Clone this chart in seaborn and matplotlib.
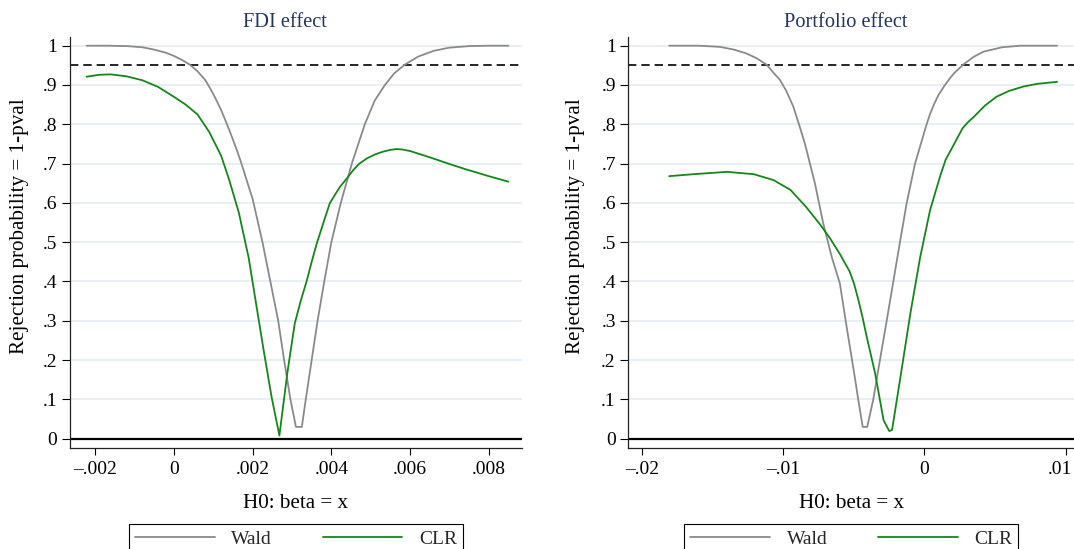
import matplotlib
matplotlib.use('Agg')
import matplotlib.pyplot as plt
import matplotlib.transforms as mtransforms
import seaborn as sns
import pandas as pd

# ---- values ----
# FDI effect panel
fdi_wald_x = [-0.00222, -0.0017, -0.0012, -0.0008, -0.0005, -0.0002, 0.0, 0.0002, 0.0004, 0.0006,
              0.0008, 0.0009, 0.001, 0.0011, 0.0012, 0.0013, 0.0014, 0.0015, 0.0016, 0.0017,
              0.002, 0.00225, 0.00245, 0.00265, 0.0028, 0.00296, 0.0031, 0.00325, 0.00335, 0.0035,
              0.00365, 0.00382, 0.004, 0.00424, 0.00452, 0.00485, 0.0051, 0.00536, 0.0056, 0.00587,
              0.0062, 0.0066, 0.007, 0.0075, 0.008, 0.0085]
fdi_wald_y = [1.0, 1.0, 0.999, 0.996, 0.99, 0.982, 0.974, 0.964, 0.952, 0.935,
              0.912, 0.895, 0.877, 0.857, 0.836, 0.812, 0.787, 0.761, 0.734, 0.705,
              0.61, 0.50, 0.40, 0.30, 0.20, 0.10, 0.03, 0.03, 0.10, 0.20,
              0.30, 0.40, 0.50, 0.60, 0.70, 0.80, 0.86, 0.90, 0.93, 0.952,
              0.972, 0.987, 0.995, 0.999, 1.0, 1.0]
fdi_clr_x = [-0.00222, -0.0019, -0.0016, -0.0012, -0.0008, -0.0004, 0.0, 0.0003, 0.0006, 0.0009,
             0.0012, 0.0014, 0.00165, 0.0019, 0.0021, 0.00228, 0.00248, 0.00268, 0.00288, 0.00307,
             0.00322, 0.00337, 0.0035, 0.00363, 0.0038, 0.00396, 0.0041, 0.00422, 0.0044, 0.00456,
             0.0047, 0.0049, 0.0051, 0.0053, 0.0055, 0.00566, 0.0058, 0.006, 0.0065, 0.007,
             0.0074, 0.008, 0.0085]
fdi_clr_y = [0.921, 0.926, 0.927, 0.922, 0.912, 0.895, 0.87, 0.85, 0.825, 0.78,
             0.72, 0.66, 0.575, 0.46, 0.336, 0.225, 0.107, 0.008, 0.166, 0.293,
             0.35, 0.40, 0.45, 0.497, 0.55, 0.599, 0.622, 0.641, 0.663, 0.684,
             0.699, 0.713, 0.723, 0.73, 0.735, 0.737, 0.736, 0.732, 0.716, 0.699,
             0.686, 0.668, 0.654]
fdi_xticks = [-0.002, 0.0, 0.002, 0.004, 0.006, 0.008]
fdi_xticklabels = ['\u2013.002', '0', '.002', '.004', '.006', '.008']

# Portfolio effect panel
port_wald_x = [-0.0181, -0.016, -0.0145, -0.0135, -0.0126, -0.0119, -0.0112, -0.0108, -0.01025, -0.0098,
               -0.0093, -0.0089, -0.00848, -0.00777, -0.00718, -0.00658, -0.006, -0.0055, -0.005, -0.0047,
               -0.00438, -0.00406, -0.00363, -0.00316, -0.00268, -0.00221, -0.00174, -0.00126, -0.00067, 0.00015,
               0.0004, 0.0007, 0.001, 0.00145, 0.0018, 0.0021, 0.00275, 0.0035, 0.0042, 0.0055,
               0.0068, 0.008, 0.0094]
port_wald_y = [1.0, 1.0, 0.997, 0.99, 0.98, 0.968, 0.952, 0.935, 0.913, 0.885,
               0.845, 0.80, 0.751, 0.65, 0.548, 0.463, 0.395, 0.28, 0.17, 0.10,
               0.03, 0.03, 0.10, 0.20, 0.30, 0.40, 0.50, 0.60, 0.70, 0.80,
               0.827, 0.853, 0.875, 0.90, 0.917, 0.93, 0.952, 0.972, 0.985, 0.996,
               1.0, 1.0, 1.0]
port_clr_x = [-0.0181, -0.0164, -0.014, -0.0121, -0.0107, -0.0095, -0.0084, -0.0074, -0.0067, -0.006,
              -0.0053, -0.005, -0.0047, -0.0044, -0.0041, -0.0035, -0.0029, -0.0025, -0.0023, -0.0017,
              -0.001, -0.0003, 0.0004, 0.0011, 0.0015, 0.002, 0.0024, 0.0027, 0.0031, 0.0035,
              0.0043, 0.0051, 0.006, 0.007, 0.008, 0.0094]
port_clr_y = [0.668, 0.673, 0.679, 0.673, 0.658, 0.633, 0.59, 0.545, 0.51, 0.47,
              0.425, 0.395, 0.355, 0.31, 0.26, 0.166, 0.047, 0.0195, 0.022, 0.158,
              0.319, 0.463, 0.582, 0.667, 0.71, 0.743, 0.77, 0.79, 0.806, 0.819,
              0.848, 0.87, 0.885, 0.896, 0.903, 0.908]
port_xticks = [-0.02, -0.01, 0.0, 0.01]
port_xticklabels = ['\u2013.02', '\u2013.01', '0', '.01']

y_ticks = [0.0, 0.1, 0.2, 0.3, 0.4, 0.5, 0.6, 0.7, 0.8, 0.9, 1.0]
y_ticklabels = ['0', '.1', '.2', '.3', '.4', '.5', '.6', '.7', '.8', '.9', '1']

sns.set_theme(style='white')
plt.rcParams['font.family'] = ['Liberation Serif', 'DejaVu Serif']

WALD_COLOR = '#8a8a8a'
CLR_COLOR = '#14861a'
GRID_COLOR = '#e6eef1'
TITLE_COLOR = '#25355e'
FS = 14          # tick labels and legend
FS_AXIS = 15.2   # axis titles
FS_TITLE = 14.7  # panel titles


def plot_panel(ax, wald_x, wald_y, clr_x, clr_y, title, title_x, xticks, xticklabels, xlim, ylabel_x):
    wald_df = pd.DataFrame({'x': wald_x, 'y': wald_y})
    clr_df = pd.DataFrame({'x': clr_x, 'y': clr_y})

    # light horizontal grid at every y tick
    for t in y_ticks[1:]:
        ax.axhline(t, color=GRID_COLOR, lw=1.3, zorder=0)
    ax.axhline(0.95, color='black', lw=1.2, ls=(0, (5, 3)), zorder=1)
    ax.axhline(0, color='black', lw=1.6, zorder=1)

    sns.lineplot(data=wald_df, x='x', y='y', ax=ax, color=WALD_COLOR, lw=1.3,
                 label='Wald', sort=False, estimator=None, zorder=3)
    sns.lineplot(data=clr_df, x='x', y='y', ax=ax, color=CLR_COLOR, lw=1.3,
                 label='CLR', sort=False, estimator=None, zorder=4)

    ax.set_xlim(xlim)
    ax.set_ylim(-0.0237, 1.0229)
    ax.set_yticks(y_ticks, y_ticklabels)
    ax.set_xticks(xticks, xticklabels)
    ax.tick_params(axis='y', left=True, length=6, width=0.8, pad=3, labelsize=FS, colors='black')
    ax.tick_params(axis='x', bottom=True, length=5, width=0.8, pad=4, labelsize=FS, colors='black')

    for side in ['top', 'right']:
        ax.spines[side].set_visible(False)
    for side in ['left', 'bottom']:
        ax.spines[side].set_color('#222222')
        ax.spines[side].set_linewidth(0.9)

    ax.set_title(title, fontsize=FS_TITLE, color=TITLE_COLOR, x=title_x, pad=7)
    ax.set_ylabel('Rejection probability = 1-pval', fontsize=FS_AXIS, color='black')
    ax.yaxis.set_label_coords(ylabel_x, 0.54)
    ax.set_xlabel('H0: beta = x', fontsize=FS_AXIS, color='black')
    ax.xaxis.set_label_coords(0.5, -0.112)

    leg = ax.legend(loc='upper center', bbox_to_anchor=(0.5, -0.185), borderaxespad=0, ncol=2,
                    frameon=True, fancybox=False, edgecolor='black', framealpha=1, handlelength=4.1,
                    handletextpad=0.85, columnspacing=2.6, borderpad=0.3, fontsize=FS)
    leg.get_frame().set_linewidth(0.8)


fig = plt.figure(figsize=(10.74, 5.49), dpi=100)
ax1 = fig.add_axes([70 / 1074, 101 / 549, 451.7 / 1074, 411.3 / 549])
ax2 = fig.add_axes([628.3 / 1074, 101 / 549, 445.7 / 1074, 411.3 / 549])

plot_panel(ax1, fdi_wald_x, fdi_wald_y, fdi_clr_x, fdi_clr_y, 'FDI effect', 0.476,
           fdi_xticks, fdi_xticklabels, (-0.00264, 0.008836), -0.091)
plot_panel(ax2, port_wald_x, port_wald_y, port_clr_x, port_clr_y, 'Portfolio effect', 0.487,
           port_xticks, port_xticklabels, (-0.0210, 0.0106), -0.097)

# the last tick label sits at the figure edge: nudge it left a few pixels so it stays inside
last_label = ax2.get_xticklabels()[-1]
last_label.set_transform(last_label.get_transform()
                         + mtransforms.ScaledTranslation(-6 / 100, 0, fig.dpi_scale_trans))

fig.savefig('out.png', dpi=100)
